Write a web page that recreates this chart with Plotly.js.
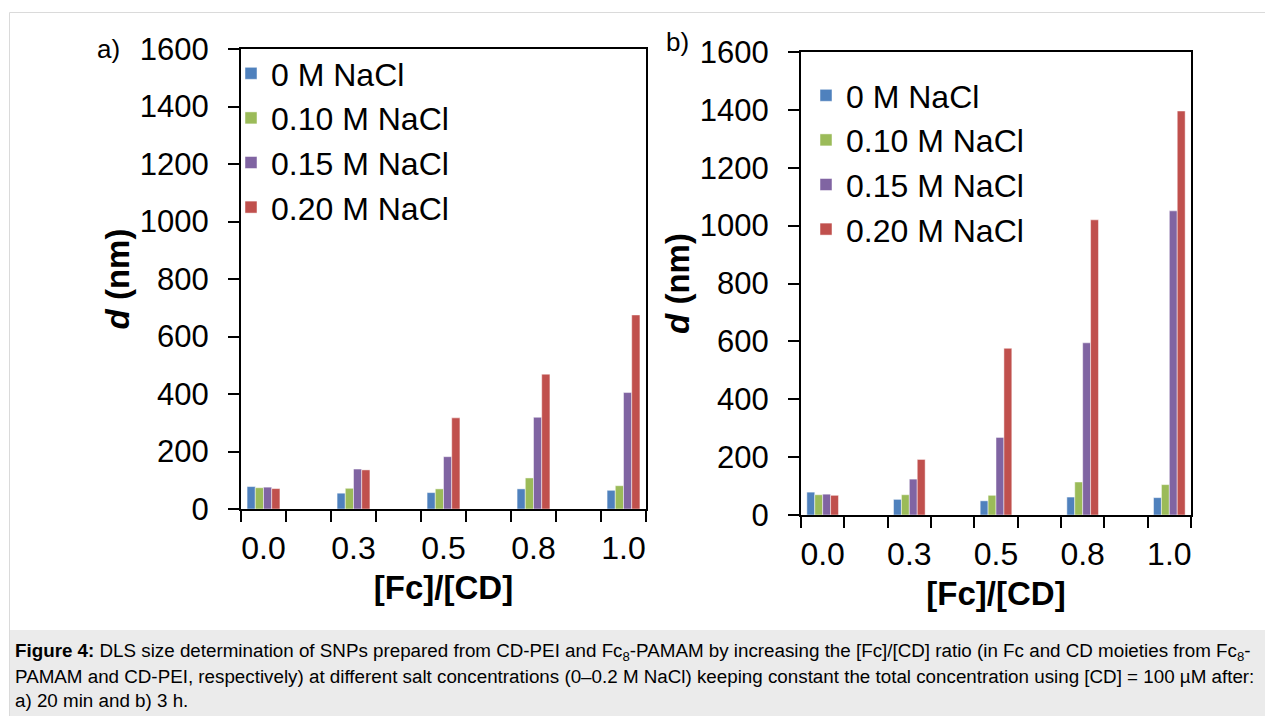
<!DOCTYPE html>
<html>
<head>
<meta charset="utf-8">
<script src="https://cdn.plot.ly/plotly-3.0.1.min.js"></script>
<style>html,body{margin:0;padding:0;background:#fff;}#chart{width:1265px;height:716px;}</style>
</head>
<body>
<div id="chart"></div>
<script>
// ---- data ----
const categories = ['0.0', '0.3', '0.5', '0.8', '1.0'];
const seriesNames = ['0 M NaCl', '0.10 M NaCl', '0.15 M NaCl', '0.20 M NaCl'];
const seriesColors = ['#4f81bd', '#9bbb59', '#8064a2', '#c0504d'];
// a) after 20 min
const a_0M   = [78, 55, 57, 70, 65];
const a_010M = [74, 72, 70, 108, 81];
const a_015M = [76, 139, 182, 319, 405];
const a_020M = [71, 136, 317, 469, 675];
// b) after 3 h
const b_0M   = [79, 54, 49, 62, 60];
const b_010M = [70, 70, 68, 114, 105];
const b_015M = [72, 124, 268, 595, 1051];
const b_020M = [68, 192, 576, 1020, 1396];
const yTickVals = [0, 200, 400, 600, 800, 1000, 1200, 1400, 1600];

// ---- layout helpers (pixel -> paper) ----
const W = 1265, H = 716;
const px = v => v / W;
const py = v => 1 - v / H;
const FONT = 'Liberation Sans, Arial, sans-serif';
const xIdx = categories.map((c, i) => i);

const aSeries = [a_0M, a_010M, a_015M, a_020M];
const bSeries = [b_0M, b_010M, b_015M, b_020M];
const traces = [];
aSeries.forEach((vals, k) => traces.push({
  type: 'bar', x: xIdx, y: vals, name: seriesNames[k], xaxis: 'x', yaxis: 'y', legend: 'legend',
  marker: {color: seriesColors[k], line: {color: 'rgba(255,255,255,0.8)', width: 0.6}},
  hoverinfo: 'y+name'
}));
bSeries.forEach((vals, k) => traces.push({
  type: 'bar', x: xIdx, y: vals, name: seriesNames[k], xaxis: 'x2', yaxis: 'y2', legend: 'legend2',
  marker: {color: seriesColors[k], line: {color: 'rgba(255,255,255,0.8)', width: 0.6}},
  hoverinfo: 'y+name'
}));

function xAxis(domain, anchor) {
  return {
    domain: domain, anchor: anchor, type: 'linear', range: [-0.25, 4.25],
    tickmode: 'array', tickvals: xIdx, ticktext: categories, ticks: '',
    tickfont: {family: FONT, size: 32, color: '#000'}, ticklabelstandoff: 10,
    minor: {tick0: -0.25, dtick: 0.5, ticks: 'outside', ticklen: 11, tickwidth: 2, tickcolor: '#000'},
    showline: true, linecolor: '#000', linewidth: 2, mirror: true,
    showgrid: false, zeroline: false, fixedrange: true,
    title: {text: '<b>[Fc]/[CD]</b>', font: {family: FONT, size: 33, color: '#000'}, standoff: 10}
  };
}
function yAxis(domain, anchor) {
  return {
    domain: domain, anchor: anchor, range: [0, 1600], tickmode: 'array', tickvals: yTickVals,
    ticks: 'outside', ticklen: 11, tickwidth: 2, tickcolor: '#000',
    tickfont: {family: FONT, size: 31, color: '#000'}, ticklabelstandoff: 13,
    showline: true, linecolor: '#000', linewidth: 2, mirror: true,
    showgrid: false, zeroline: false, fixedrange: true,
    title: {text: '<b><i>d</i> (nm)</b>', font: {family: FONT, size: 33, color: '#000'}, standoff: 0}
  };
}

const legendBase = {
  bgcolor: 'rgba(0,0,0,0)', borderwidth: 0, xanchor: 'left', yanchor: 'top',
  font: {family: FONT, size: 32, color: '#000'}, tracegroupgap: 0, itemclick: false, itemdoubleclick: false
};

const layout = {
  width: W, height: H,
  margin: {l: 0, r: 0, t: 0, b: 0, autoexpand: false},
  paper_bgcolor: '#fff', plot_bgcolor: 'rgba(0,0,0,0)',
  barmode: 'group', bargap: 0.635, bargroupgap: 0,
  showlegend: true,
  xaxis: xAxis([px(241), px(646)], 'y'),
  yaxis: yAxis([py(509), py(49)], 'x'),
  xaxis2: xAxis([px(801), px(1191)], 'y2'),
  yaxis2: yAxis([py(515), py(52)], 'x2'),
  legend: Object.assign({}, legendBase, {x: px(231), y: py(46)}),
  legend2: Object.assign({}, legendBase, {x: px(806), y: py(68)}),
  shapes: [
    {type: 'rect', xref: 'paper', yref: 'paper', x0: px(9), x1: px(1266), y0: py(716), y1: py(630),
     fillcolor: '#ebebeb', line: {width: 0}, layer: 'below'},
    {type: 'rect', xref: 'paper', yref: 'paper', x0: px(9.5), x1: px(1270), y0: py(720), y1: py(12.5),
     fillcolor: 'rgba(0,0,0,0)', line: {color: '#dadada', width: 1}, layer: 'below'}
  ],
  annotations: [
    {text: 'a)', xref: 'paper', yref: 'paper', x: px(108), y: py(49), xanchor: 'center', yanchor: 'middle',
     showarrow: false, font: {family: FONT, size: 26, color: '#000'}},
    {text: 'b)', xref: 'paper', yref: 'paper', x: px(677), y: py(42), xanchor: 'center', yanchor: 'middle',
     showarrow: false, font: {family: FONT, size: 26, color: '#000'}},
    {text: '<b>Figure 4:</b> DLS size determination of SNPs prepared from CD-PEI and Fc<sub>8</sub>-PAMAM by increasing the [Fc]/[CD] ratio (in Fc and CD moieties from Fc<sub>8</sub>-',
     xref: 'paper', yref: 'paper', x: px(13), y: py(652), xanchor: 'left', yanchor: 'middle', align: 'left',
     showarrow: false, font: {family: FONT, size: 18.8, color: '#000'}},
    {text: 'PAMAM and CD-PEI, respectively) at different salt concentrations (0–0.2 M NaCl) keeping constant the total concentration using [CD] = 100 µM after:',
     xref: 'paper', yref: 'paper', x: px(13), y: py(676), xanchor: 'left', yanchor: 'middle', align: 'left',
     showarrow: false, font: {family: FONT, size: 18.8, color: '#000'}},
    {text: 'a) 20 min and b) 3 h.',
     xref: 'paper', yref: 'paper', x: px(13), y: py(700), xanchor: 'left', yanchor: 'middle', align: 'left',
     showarrow: false, font: {family: FONT, size: 18.8, color: '#000'}}
  ]
};

Plotly.newPlot('chart', traces, layout, {staticPlot: true, displayModeBar: false});
</script>
</body>
</html>
